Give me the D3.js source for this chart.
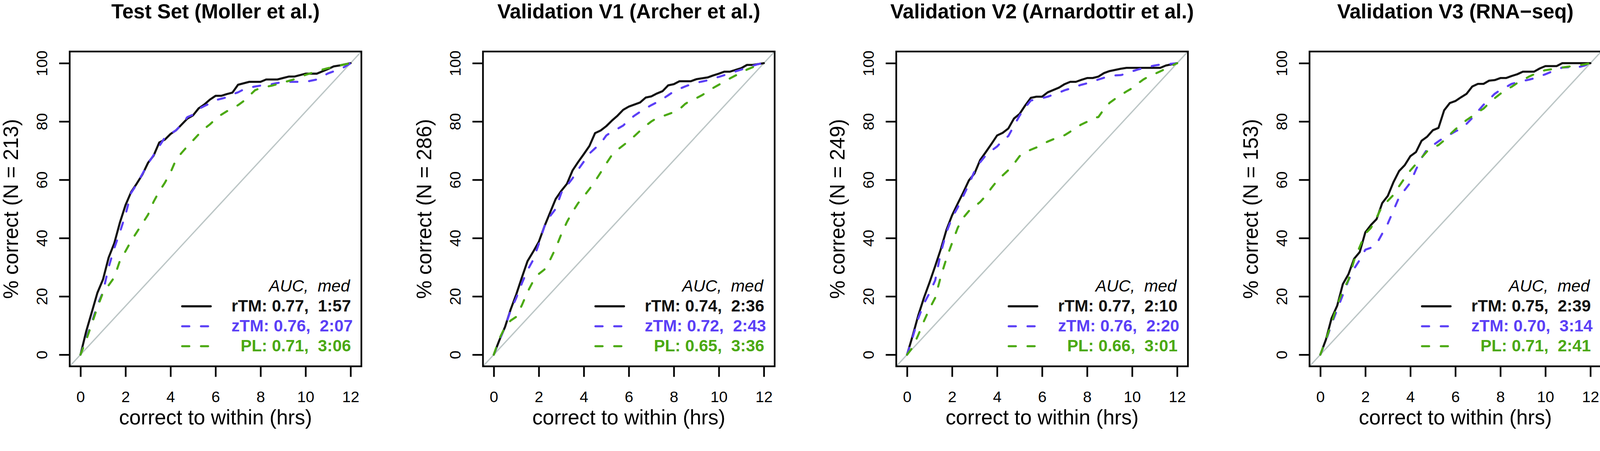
<!DOCTYPE html>
<html>
<head>
<meta charset="utf-8">
<script src="https://cdnjs.cloudflare.com/ajax/libs/d3/7.8.5/d3.min.js"></script>
<style>
  html, body { margin: 0; padding: 0; background: #fff; overflow: hidden; }
  #chart { width: 100vw; height: 100vh; }
  svg { display: block; width: 100vw; height: 100vh; font-family: 'Liberation Sans', Arial, Helvetica, sans-serif; }
</style>
</head>
<body>
<div id="chart"></div>
<script>
// Canvas (drawing units, the svg is scaled to the window)
const width = 4254;
const height = 1154;

// Hours grid (x values of every curve)
const hours = [0, 0.25, 0.5, 0.75, 1, 1.25, 1.5, 1.75, 2, 2.25, 2.5, 2.75, 3, 3.25, 3.5, 3.75,
  4, 4.25, 4.5, 4.75, 5, 5.25, 5.5, 5.75, 6, 6.25, 6.5, 6.75, 7, 7.25, 7.5, 7.75,
  8, 8.25, 8.5, 8.75, 9, 9.25, 9.5, 9.75, 10, 10.25, 10.5, 10.75, 11, 11.25, 11.5, 11.75, 12];

// Test set (Moller et al.)
const testRTM = [0, 7.9, 14.5, 21.2, 25.8, 33.3, 38.2, 45.3, 51.3, 55.8, 58.7, 61.8, 65.8, 68.3, 72.8, 73.8,
  75.7, 77.0, 79.0, 81.0, 82.1, 84.5, 85.8, 87.5, 88.8, 88.8, 89.4, 89.9, 92.6, 93.1, 93.6, 93.6,
  93.6, 94.4, 94.4, 94.4, 94.9, 95.4, 95.4, 95.9, 96.4, 96.4, 96.4, 97.2, 98.0, 98.9, 99.2, 99.6, 100];
const testZTM = [0, 5.5, 11, 17, 21.5, 30, 36.5, 42, 48, 55.5, 58.5, 62, 65.5, 68.5, 71.5, 74.5,
  75.8, 77, 79, 81.5, 82.3, 84.3, 85.3, 86.2, 87.3, 87.8, 88.3, 89.3, 90.0, 91.0, 91.6, 92.0,
  92.3, 92.6, 92.8, 93.2, 93.5, 93.6, 93.6, 93.6, 93.6, 94.0, 94.4, 95.5, 96.5, 97.2, 97.8, 98.8, 100];
const testPL = [0, 5, 10.5, 16.2, 21.3, 23.8, 26.5, 32.2, 35.5, 39, 42, 45, 48, 52.5, 56, 59,
  62.5, 67, 69.3, 71.5, 73.5, 75.6, 77.5, 79, 80.8, 82.3, 83.5, 84.5, 85.6, 87, 88.8, 90.7,
  91.5, 91.9, 92.3, 92.8, 93.4, 93.9, 94.5, 95.2, 96.0, 96.6, 97.2, 97.8, 98.3, 98.7, 99.2, 99.6, 100];

// Validation V1 (Archer et al.)
const v1RTM = [0, 5, 9.5, 15.5, 20.7, 26.5, 32.1, 35.3, 38.7, 44, 48.7, 53.4, 56.2, 58.6, 63.2, 66.1,
  68.8, 71.6, 76.0, 76.9, 78.4, 80.3, 82.0, 84.0, 85.1, 85.8, 86.5, 88.2, 88.6, 89.6, 90.4, 92.4,
  92.8, 93.8, 93.8, 93.8, 94.5, 94.8, 95.1, 95.8, 96.4, 97.1, 97.1, 97.7, 98.3, 99.4, 99.4, 99.7, 100];
const v1ZTM = [0, 4.8, 9.6, 15.2, 19.5, 24.5, 29, 32.5, 38, 44, 47.5, 50, 55.5, 58, 60.5, 63.5,
  66.2, 69, 70.8, 72.5, 75.2, 76.5, 77.5, 78.6, 80.5, 82, 83.3, 84.5, 85.6, 86.6, 87.7, 89.0,
  90.3, 91.2, 92.0, 92.7, 93.3, 93.7, 94.1, 94.8, 95.3, 95.9, 96.6, 97.2, 97.8, 98.5, 99.1, 99.7, 100];
const v1PL = [0, 5.5, 9.5, 11.7, 13, 17, 21.5, 25.2, 27.7, 29.2, 32.5, 36.5, 41.3, 45.5, 49, 52,
  54.3, 56.8, 59.5, 62.5, 65.6, 68.5, 70.3, 71.8, 73.3, 75, 76.8, 78.5, 80, 81.2, 81.8, 82.5,
  83.2, 84.2, 86.0, 87.2, 88.0, 89.0, 90.2, 91.5, 92.6, 93.7, 94.8, 95.8, 96.8, 97.8, 98.6, 99.3, 100];

// Validation V2 (Arnardottir et al.)
const v2RTM = [0, 6.5, 13.5, 19.5, 24.8, 30.4, 36.2, 42.8, 47.8, 51.8, 55.7, 59.8, 62.2, 66.8, 69.5, 72.3,
  75.2, 76.1, 77.6, 81, 82.6, 85.5, 88.1, 88.5, 88.5, 90.0, 90.8, 91.6, 92.8, 93.6, 93.6, 94.3,
  94.9, 94.9, 95.4, 96.6, 97.3, 97.7, 98.1, 98.4, 98.4, 98.4, 98.4, 98.4, 98.4, 98.4, 99.2, 99.6, 100];
const v2ZTM = [0, 6, 12.5, 17.5, 21.2, 25.5, 35, 42, 47, 50.5, 54.5, 58.5, 63, 66, 68.4, 70,
  71.4, 73.5, 75, 78.5, 82, 84.8, 87.2, 87.6, 88, 88.5, 89.2, 89.9, 90.7, 91.3, 92.0, 92.6,
  93.1, 93.7, 94.4, 95.0, 95.5, 95.8, 95.9, 96.5, 97.2, 97.8, 98.3, 98.8, 99.2, 99.5, 99.6, 99.8, 100];
const v2PL = [0, 2.5, 6.8, 11.5, 15.8, 19.5, 26.8, 33, 38.3, 43.5, 47, 49.3, 50.8, 52.4, 54.5, 57.2,
  59.6, 61.5, 63.3, 65.5, 68.1, 69.5, 70.3, 71.1, 72.2, 73.1, 73.9, 74.5, 75.3, 76.5, 77.8, 79,
  79.9, 81.2, 81.5, 84.2, 86.4, 87.8, 89.1, 90.3, 91.4, 93, 94.4, 95.5, 96.3, 97.2, 98.1, 99.1, 100];

// Validation V3 (RNA-seq)
const v3RTM = [0, 5.2, 12.5, 16.8, 24.2, 27.6, 32.9, 35.2, 42.0, 44.5, 46.5, 52.0, 54.5, 59.2, 63, 65,
  68.1, 69.5, 73.4, 74.8, 77.0, 77.8, 83.8, 86.3, 87.0, 88.3, 89.5, 92.0, 92.9, 92.9, 94.0, 94.2,
  94.9, 94.9, 95.6, 96.2, 97.1, 97.1, 97.1, 98.2, 99, 99, 99, 100, 100, 100, 100, 100, 100];
const v3ZTM = [0, 4.8, 10.5, 15.5, 20.5, 25.5, 29.5, 32.5, 36, 36.7, 38, 41.5, 45, 49.5, 54, 56.5,
  59, 63.5, 67.5, 70.5, 71.8, 73.2, 74.5, 75.5, 76.6, 77.5, 79.2, 81.2, 83.5, 85.7, 87.6, 89.5,
  90.8, 91.8, 92.9, 93.4, 93.9, 94.3, 94.8, 95.5, 96.2, 97, 97.8, 98.5, 98.6, 98.6, 98.7, 99.2, 100];
const v3PL = [0, 5.2, 10.8, 17, 21.8, 25.7, 32.3, 37, 41.5, 43.5, 47, 51, 52.8, 54.8, 57.8, 60.6,
  63.2, 65.4, 67.6, 69.8, 71, 71.9, 73.5, 75.5, 77.3, 79, 80.5, 81.8, 83.2, 84.4, 86.3, 88,
  89.5, 90.9, 91.9, 93.2, 94.2, 95.3, 96.2, 97.1, 97.6, 97.9, 98.2, 98.5, 98.8, 99, 99.3, 99.6, 100];

// Panel labels
const panelTitles = ['Test Set (Moller et al.)', 'Validation V1 (Archer et al.)',
  'Validation V2 (Arnardottir et al.)', 'Validation V3 (RNA\u2212seq)'];
const panelN = [213, 286, 249, 153];
const methodNames = ['rTM', 'zTM', 'PL'];
const aucValues = [['0.77', '0.76', '0.71'], ['0.74', '0.72', '0.65'], ['0.77', '0.76', '0.66'], ['0.75', '0.70', '0.71']];
const medianValues = [['1:57', '2:07', '3:06'], ['2:36', '2:43', '3:36'], ['2:10', '2:20', '3:01'], ['2:39', '3:14', '2:41']];
const seriesByPanel = [[testRTM, testZTM, testPL], [v1RTM, v1ZTM, v1PL], [v2RTM, v2ZTM, v2PL], [v3RTM, v3ZTM, v3PL]];
const xTicks = [0, 2, 4, 6, 8, 10, 12];
const yTicks = [0, 20, 40, 60, 80, 100];

// Styles
const colors = ['#111111', '#5b3ff6', '#4ba912'];
const dashes = [null, '19,31', '19,31'];
const diagColor = '#bcc6c6';

// Layout (R style plot regions)
const panelLeft0 = 185.3;
const panelStep = 1098.8;
const plotW = 775.5;
const plotTop = 136.9;
const plotBottom = 973.5;

const svg = d3.select('#chart').append('svg')
  .attr('viewBox', [0, 0, width, height])
  .attr('preserveAspectRatio', 'xMinYMin meet');

const x = d3.scaleLinear().domain([-0.48, 12.48]).range([0, plotW]);
const y = d3.scaleLinear().domain([-4, 104]).range([plotBottom, plotTop]);

const line = d3.line()
  .x(d => x(d[0]))
  .y(d => y(d[1]));

panelTitles.forEach((title, i) => {
  const g = svg.append('g')
      .attr('class', `panel panel-${i}`)
      .attr('transform', `translate(${panelLeft0 + i * panelStep}, 0)`);

  // Title
  g.append('text')
      .attr('x', plotW / 2)
      .attr('y', 49)
      .attr('text-anchor', 'middle')
      .style('font-size', '54px')
      .style('font-weight', 'bold')
      .text(title);

  // Clip for the plot region
  g.append('clipPath')
      .attr('id', `clip-${i}`)
    .append('rect')
      .attr('x', 0)
      .attr('y', plotTop)
      .attr('width', plotW)
      .attr('height', plotBottom - plotTop);

  // Diagonal reference
  g.append('line')
      .attr('clip-path', `url(#clip-${i})`)
      .attr('x1', x(-0.48))
      .attr('y1', y(-4))
      .attr('x2', x(12.48))
      .attr('y2', y(104))
      .attr('stroke', diagColor)
      .attr('stroke-width', 3.5);

  // Curves
  g.append('g')
      .attr('class', 'curves')
      .attr('clip-path', `url(#clip-${i})`)
    .selectAll('path')
    .data(seriesByPanel[i])
    .join('path')
      .attr('d', d => line(hours.map((h, k) => [h, d[k]])))
      .attr('fill', 'none')
      .attr('stroke', (d, k) => colors[k])
      .attr('stroke-width', 5.5)
      .attr('stroke-linejoin', 'round')
      .attr('stroke-linecap', 'round')
      .attr('stroke-dasharray', (d, k) => dashes[k]);

  // X axis
  const xAxis = g.append('g')
      .attr('transform', `translate(0, ${plotBottom})`)
      .call(d3.axisBottom(x).tickValues(xTicks).tickSize(28).tickFormat(d3.format('d')));
  xAxis.select('.domain').remove();
  xAxis.selectAll('line').attr('stroke', '#000').attr('stroke-width', 4.5);
  xAxis.selectAll('text')
      .attr('y', 95.5)
      .attr('dy', null)
      .attr('fill', '#000')
      .style('font-size', '41px')
      .style('font-family', "'Liberation Sans', Arial, sans-serif");

  // Y axis (labels parallel to the axis)
  const yAxis = g.append('g')
      .call(d3.axisLeft(y).tickValues(yTicks).tickSize(28).tickFormat(d3.format('d')));
  yAxis.select('.domain').remove();
  yAxis.selectAll('line').attr('stroke', '#000').attr('stroke-width', 4.5);
  yAxis.selectAll('text')
      .attr('x', null)
      .attr('dy', null)
      .attr('text-anchor', 'middle')
      .attr('transform', 'translate(-59.5, 0) rotate(-90)')
      .attr('fill', '#000')
      .style('font-size', '41px')
      .style('font-family', "'Liberation Sans', Arial, sans-serif");

  // Axis titles
  g.append('text')
      .attr('x', plotW / 2)
      .attr('y', 1128)
      .attr('text-anchor', 'middle')
      .style('font-size', '55px')
      .text('correct to within (hrs)');
  g.append('text')
      .attr('transform', `translate(-138, ${(plotTop + plotBottom) / 2}) rotate(-90)`)
      .attr('text-anchor', 'middle')
      .style('font-size', '55px')
      .style('white-space', 'pre')
      .text(`% correct (N = ${panelN[i]})`);

  // Legend
  const legend = g.append('g').attr('class', 'legend');
  legend.append('text')
      .attr('x', 745)
      .attr('y', 775)
      .attr('text-anchor', 'end')
      .style('font-size', '44px')
      .style('font-style', 'italic')
      .style('white-space', 'pre')
      .text('AUC,  med');
  const rows = legend.selectAll('.legend-row')
    .data(methodNames)
    .join('g')
      .attr('class', 'legend-row')
      .attr('transform', (d, k) => `translate(0, ${828 + k * 53})`);
  rows.append('path')
      .attr('d', 'M299,-14H375')
      .attr('fill', 'none')
      .attr('stroke', (d, k) => colors[k])
      .attr('stroke-width', 5.5)
      .attr('stroke-linecap', 'round')
      .attr('stroke-dasharray', (d, k) => dashes[k]);
  rows.append('text')
      .attr('x', 430)
      .attr('y', 0)
      .attr('fill', (d, k) => colors[k])
      .style('font-size', '44px')
      .style('font-weight', 'bold')
      .style('white-space', 'pre')
      .text((d, k) => `${d === 'PL' ? '  ' : ''}${d}: ${aucValues[i][k]},  ${medianValues[i][k]}`);

  // Box
  g.append('rect')
      .attr('x', 0)
      .attr('y', plotTop)
      .attr('width', plotW)
      .attr('height', plotBottom - plotTop)
      .attr('fill', 'none')
      .attr('stroke', '#000')
      .attr('stroke-width', 4.5);
});
</script>
</body>
</html>
